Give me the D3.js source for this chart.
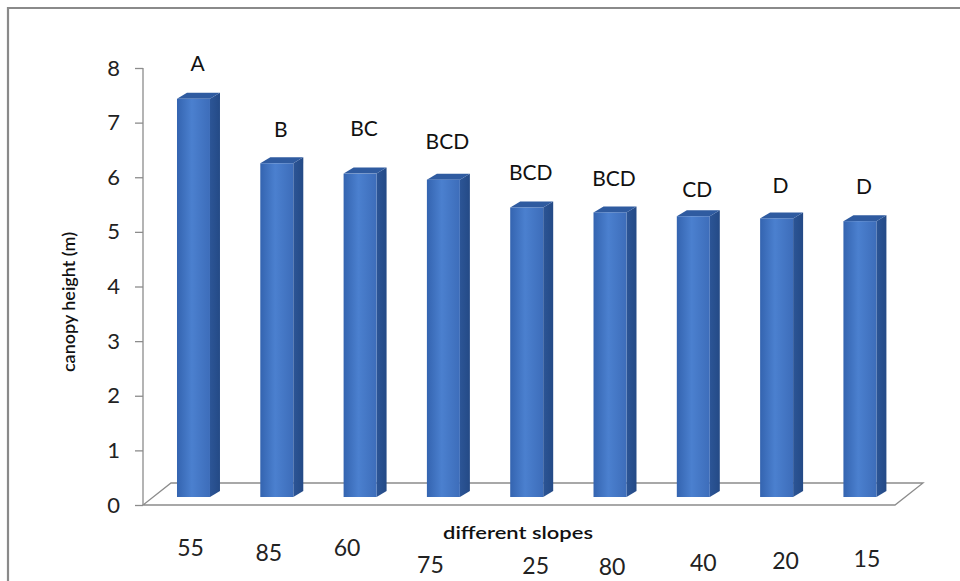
<!DOCTYPE html>
<html><head><meta charset="utf-8">
<script src="https://cdn.jsdelivr.net/npm/d3@7"></script>
<style>html,body{margin:0;padding:0;background:#fff}svg{display:block}</style>
</head><body>
<svg id="c" width="960" height="581"></svg>
<script>
// ---- data ----
const categories = ["55","85","60","75","25","80","40","20","15"];
const heights = [7.29, 6.11, 5.92, 5.81, 5.30, 5.21, 5.14, 5.10, 5.05];
const groupLetters = ["A","B","BC","BCD","BCD","BCD","CD","D","D"];
const yTicks = [0,1,2,3,4,5,6,7,8];
// layout nudges (manual placement seen in the original)
const catNudgeX = [-3,-8,-13,-13,9,2,10,9,7];
const catNudgeY = [0,5,0,17,18,19,15,13,11];
const letterGap = [28,26,38,31,27,26,19,25,27];

const svg = d3.select("#c");
const W = 960, H = 581;
const font = "Lato, 'Open Sans', sans-serif";

// frame
svg.append("rect").attr("x",0).attr("y",0).attr("width",W).attr("height",H).attr("fill","#fff");
svg.append("path").attr("d","M8,581 L8,8 L960,8").attr("fill","none")
  .attr("stroke","#8a8a8a").attr("stroke-width",2.2);

// scales
const y = d3.scaleLinear().domain([0,8]).range([505,68]);
const x = d3.scaleBand().domain(categories).range([152,901.4]).paddingInner(0.604).paddingOuter(0.3);
const depth = {dx:28, dy:22};   // floor depth
const barShift = 8;             // bars sit mid-depth
const bd = {dx:10, dy:6};       // bar 3D offset

// gradients
const defs = svg.append("defs");
const g = defs.append("linearGradient").attr("id","front").attr("x1","0").attr("x2","1");
g.append("stop").attr("offset","0").attr("stop-color","#3464b0");
g.append("stop").attr("offset","0.45").attr("stop-color","#4b80cf");
g.append("stop").attr("offset","1").attr("stop-color","#3d6dba");
const gs = defs.append("linearGradient").attr("id","side").attr("x1","0").attr("x2","1");
gs.append("stop").attr("offset","0").attr("stop-color","#2c5596");
gs.append("stop").attr("offset","1").attr("stop-color","#244a86");

// floor
const fx0 = 143, fx1 = 895, fy = y(0);
svg.append("path")
  .attr("d",`M${fx0},${fy} L${fx1},${fy} L${fx1+depth.dx},${fy-depth.dy} L${fx0+depth.dx},${fy-depth.dy} Z`)
  .attr("fill","#fff").attr("stroke","#8c8c8c").attr("stroke-width",1.3);

// y axis
const yAxis = d3.axisLeft(y).tickValues(yTicks).tickSize(8).tickPadding(15);
const ax = svg.append("g").attr("transform","translate(143,0)").call(yAxis);
ax.select(".domain").attr("stroke","#8c8c8c").attr("stroke-width",1.3).attr("d",`M0,${y(8)}V${y(0)}`);
ax.selectAll(".tick line").attr("stroke","#8c8c8c").attr("stroke-width",1.3);
ax.selectAll(".tick text").attr("font-family",font).attr("font-size",22).attr("fill","#222");

// bars
const bars = svg.append("g").selectAll("g").data(categories).join("g");
bars.each(function(c,i){
  const gg = d3.select(this);
  const x0 = x(c), w = x.bandwidth();
  const yb = y(0) - barShift, yt = y(heights[i]) - barShift;
  gg.append("path").attr("d",`M${x0+w},${yt} L${x0+w+bd.dx},${yt-bd.dy} L${x0+w+bd.dx},${yb-bd.dy} L${x0+w},${yb} Z`)
    .attr("fill","url(#side)");
  gg.append("path").attr("d",`M${x0},${yt} L${x0+bd.dx},${yt-bd.dy} L${x0+w+bd.dx},${yt-bd.dy} L${x0+w},${yt} Z`)
    .attr("fill","#2f5ba0");
  gg.append("rect").attr("x",x0).attr("y",yt).attr("width",w).attr("height",yb-yt).attr("fill","url(#front)");
  gg.append("text").attr("x",x0+w/2+4).attr("y",yt-letterGap[i])
    .attr("text-anchor","middle").attr("font-family",font).attr("font-size",21).attr("fill","#111")
    .text(groupLetters[i]);
});

// category labels
svg.append("g").selectAll("text").data(categories).join("text")
  .attr("x",(c,i)=>x(c)+x.bandwidth()/2+catNudgeX[i])
  .attr("y",(c,i)=>556+catNudgeY[i])
  .attr("text-anchor","middle").attr("font-family",font).attr("font-size",23).attr("fill","#222")
  .text(c=>c);

// axis titles
svg.append("text").attr("x",518).attr("y",539).attr("text-anchor","middle")
  .attr("font-family",font).attr("font-size",17).attr("font-weight",600).attr("fill","#111")
  .attr("textLength",150).attr("lengthAdjust","spacingAndGlyphs")
  .text("different slopes");
svg.append("text").attr("transform","translate(75,302) rotate(-90)").attr("text-anchor","middle")
  .attr("font-family",font).attr("font-size",17).attr("font-weight",600).attr("fill","#111")
  .attr("textLength",140).attr("lengthAdjust","spacingAndGlyphs")
  .text("canopy height (m)");
</script>
</body></html>
